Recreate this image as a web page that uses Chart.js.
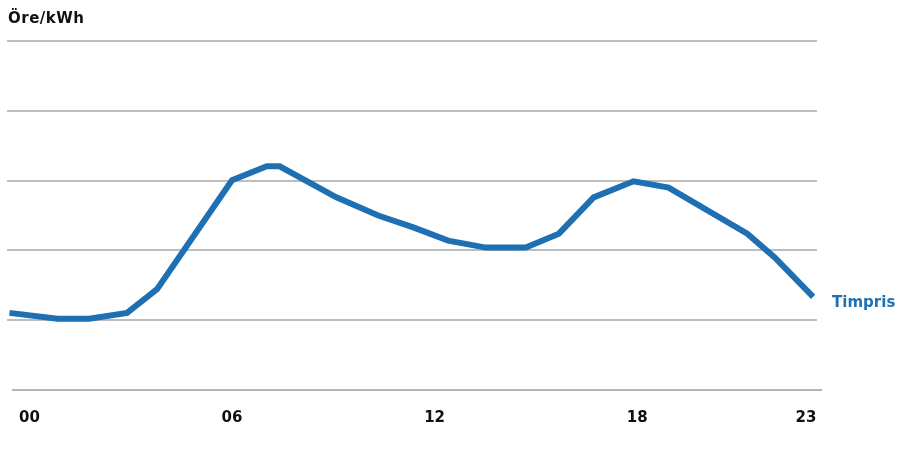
<!DOCTYPE html>
<html>
<head>
<meta charset="utf-8">
<script src="https://cdn.jsdelivr.net/npm/chart.js@4.4.1/dist/chart.umd.min.js"></script>
<style>
  html, body { margin: 0; padding: 0; background: #ffffff; }
  #wrap { width: 900px; height: 450px; position: relative; }
</style>
</head>
<body>
<div id="wrap"><canvas id="c" width="900" height="450"></canvas></div>
<script>
// Data (x in hours, y in öre/kWh on an unlabelled 0–100 scale)
const hours  = [-0.59, 0.83, 1.77, 2.89, 3.78, 6.0, 7.03, 7.41, 9.09, 10.33, 11.37, 12.40, 13.52, 14.70, 15.68, 16.71, 17.89, 18.93, 21.26, 22.08, 23.21];
const prices = [22.1, 20.4, 20.4, 22.1, 28.9, 60.1, 64.1, 64.1, 55.2, 50.0, 46.6, 42.8, 40.8, 40.8, 44.8, 55.2, 59.8, 58.0, 44.8, 37.9, 26.7];
const tickHours = [0, 6, 12, 18, 23];
const yGridValues = [0, 20, 40, 60, 80, 100];
const seriesName = 'Timpris';
const unitLabel = 'Öre/kWh';

const blue = '#1f6fb3';
const font = '"DejaVu Sans", "Liberation Sans", sans-serif';

const points = hours.map((h, i) => ({ x: h, y: prices[i] }));

const overlay = {
  id: 'overlay',
  afterDraw(chart) {
    const ctx = chart.ctx;
    const yScale = chart.scales.y;
    ctx.save();
    // bottom axis line
    const yb = Math.round(yScale.getPixelForValue(0));
    ctx.strokeStyle = '#b5b5b5';
    ctx.lineWidth = 2;
    ctx.beginPath();
    ctx.moveTo(12, yb);
    ctx.lineTo(822, yb);
    ctx.stroke();
    // unit label
    ctx.fillStyle = '#111111';
    ctx.font = 'bold 15px ' + font;
    ctx.letterSpacing = '0.5px';
    ctx.textAlign = 'left';
    ctx.textBaseline = 'alphabetic';
    ctx.fillText(unitLabel, 8, 23);
    // series label at line end
    const meta = chart.getDatasetMeta(0);
    const last = meta.data[meta.data.length - 1];
    ctx.letterSpacing = '0px';
    ctx.fillStyle = blue;
    ctx.font = 'bold 15px ' + font;
    ctx.textBaseline = 'middle';
    ctx.fillText(seriesName, last.x + 19, last.y + 6);
    ctx.restore();
  }
};

new Chart(document.getElementById('c'), {
  type: 'line',
  data: {
    datasets: [{
      label: seriesName,
      data: points,
      borderColor: blue,
      backgroundColor: blue,
      borderWidth: 6,
      pointRadius: 0,
      tension: 0,
      fill: false
    }]
  },
  options: {
    responsive: false,
    animation: false,
    events: [],
    layout: { padding: { left: -1, right: 83, top: 41, bottom: 4 } },
    plugins: { legend: { display: false }, tooltip: { enabled: false }, title: { display: false } },
    scales: {
      x: {
        type: 'linear',
        min: -0.65,
        max: 23.325,
        afterBuildTicks(scale) { scale.ticks = tickHours.map(v => ({ value: v })); },
        grid: { display: false, drawTicks: false },
        border: { display: false },
        ticks: {
          autoSkip: false,
          maxRotation: 0,
          padding: 19,
          color: '#111111',
          font: { family: font, size: 15, weight: 'bold' },
          callback: (v) => String(v).padStart(2, '0')
        }
      },
      y: {
        min: 0,
        max: 100,
        afterBuildTicks(scale) { scale.ticks = yGridValues.map(v => ({ value: v })); },
        grid: {
          drawTicks: false,
          lineWidth: 2,
          color: (c) => (c.tick && c.tick.value === 0) ? 'rgba(0,0,0,0)' : '#bdbdbd'
        },
        border: { display: false },
        ticks: { display: false }
      }
    }
  },
  plugins: [overlay]
});
</script>
</body>
</html>
